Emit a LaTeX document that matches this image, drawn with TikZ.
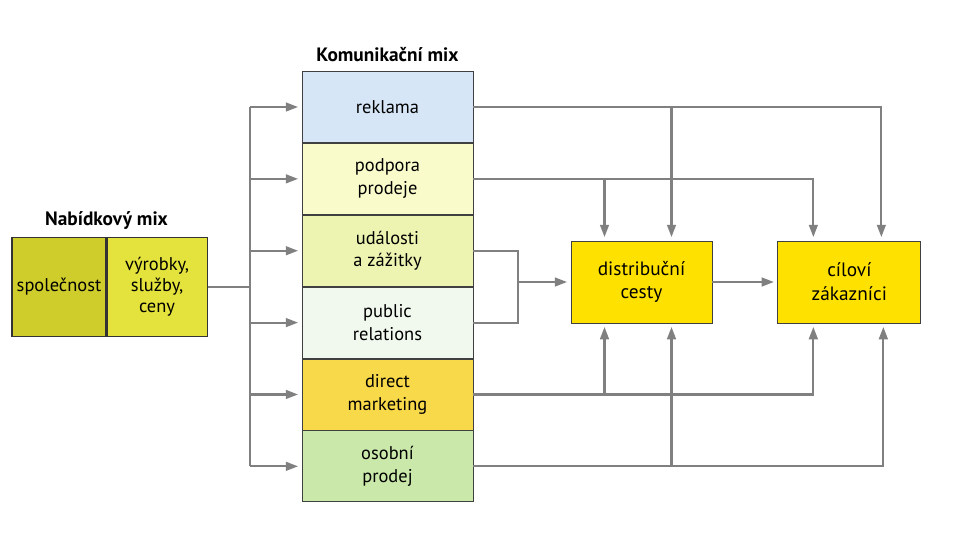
\documentclass[tikz,border=0pt]{standalone}
\usepackage{fontspec}
\setmainfont{PT Sans}
\usetikzlibrary{positioning,arrows.meta,calc}
\definecolor{linkgray}{HTML}{808080}
\definecolor{cellblue}{HTML}{D6E6F7}
\definecolor{cellcream}{HTML}{FAFBCB}
\definecolor{celllime}{HTML}{EDF4B2}
\definecolor{cellmint}{HTML}{F1F8EE}
\definecolor{cellorange}{HTML}{F8D94A}
\definecolor{cellgreen}{HTML}{C9E8A9}
\definecolor{offerolive}{HTML}{CFCD2C}
\definecolor{offeryellow}{HTML}{E4E23C}
\definecolor{goalyellow}{HTML}{FFE100}
\tikzset{
  >={Triangle[length=7pt,width=5pt]},
  km link/.style={draw=linkgray, line width=1.2pt},
  km flow/.style={km link, ->},
  km cell/.style={draw=black!75, line width=0.5pt, align=center, inner sep=0pt,
    minimum width=3.42cm, minimum height=1.42cm,
    font=\fontsize{10.5}{13}\selectfont},
  km offer/.style={draw=black!80, line width=0.6pt, align=center, inner sep=0pt,
    minimum height=1.98cm, font=\fontsize{10.5}{12}\selectfont},
  km goal/.style={draw=black!75, fill=goalyellow, line width=0.5pt, align=center,
    inner sep=0pt, minimum height=1.64cm, font=\fontsize{11}{13.5}\selectfont},
  km title/.style={font=\fontsize{11}{13}\selectfont\bfseries, inner sep=1pt},
}

\begin{document}
\begin{tikzpicture}[x=0.02cm, y=-0.02cm]
 \useasboundingbox (0,0) rectangle (969,545);
 % nabidkovy mix
 \node[km offer, fill=offerolive, minimum width=1.88cm] (spol) at (59,287) {společnost};
 \node[km offer, fill=offeryellow, minimum width=2cm, right=0pt of spol] (vyr)
   {výrobky,\\služby,\\ceny};
 \node[km title, above=3pt of spol.north east] (offertitle) {Nabídkový mix};
 % komunikacni mix
 \node[km cell, fill=cellblue] (reklama) at (387.5,107) {reklama};
 \node[km cell, fill=cellcream, below=0pt of reklama] (podpora) {podpora\\prodeje};
 \node[km cell, fill=celllime, below=0pt of podpora] (udalosti) {události\\a zážitky};
 \node[km cell, fill=cellmint, below=0pt of udalosti] (public) {public\\relations};
 \node[km cell, fill=cellorange, below=0pt of public] (direct) {direct\\marketing};
 \node[km cell, fill=cellgreen, below=0pt of direct] (osobni) {osobní\\prodej};
 \node[km title, above=4pt of reklama.north] (mixtitle) {Komunikační mix};
 % cile
 \node[km goal, minimum width=2.82cm] (dist) at (641.5,282) {distribuční\\cesty};
 \node[km goal, minimum width=2.86cm, right=1.3cm of dist] (cil) {cíloví\\zákazníci};

 % rozvod do komunikacniho mixu
 \coordinate (bus) at (250,0);
 \draw[km link] (vyr.east) -- (vyr.east -| bus);
 \draw[km link] (bus |- reklama.west) -- (bus |- osobni.west);
 \foreach \c in {reklama,podpora,udalosti,public,direct,osobni}
   \draw[km flow] (bus |- \c.west) -- ([xshift=-2pt]\c.west);

 % vstupy do cilu
 \coordinate (dist in a) at ($(dist.north)+(-37,0)$);
 \coordinate (dist in b) at ($(dist.north)+(30,0)$);
 \coordinate (cil in a) at ($(cil.north)+(-36,0)$);
 \coordinate (cil in b) at ($(cil.north)+(32,0)$);
 \coordinate (dist up a) at ($(dist.south)+(-37,0)$);
 \coordinate (dist up b) at ($(dist.south)+(30,0)$);
 \coordinate (cil up a) at ($(cil.south)+(-36,0)$);
 \coordinate (cil up b) at ($(cil.south)+(34,0)$);
 \coordinate (join) at ($(dist.west)+(-53,0)$);

 \draw[km flow] (reklama.east) -| ([yshift=2pt]cil in b);
 \draw[km flow] (reklama.east -| dist in b) -- ([yshift=2pt]dist in b);
 \draw[km flow] (podpora.east) -| ([yshift=2pt]cil in a);
 \draw[km flow] (podpora.east -| dist in a) -- ([yshift=2pt]dist in a);
 \draw[km link] (udalosti.east) -| (join) |- (public.east);
 \draw[km flow] (join) -- ([xshift=-2pt]dist.west);
 \draw[km flow] (dist) -- ([xshift=-2pt]cil.west);
 \draw[km flow] (direct.east) -| ([yshift=-2pt]cil up a);
 \draw[km flow] (direct.east -| dist up a) -- ([yshift=-2pt]dist up a);
 \draw[km flow] (osobni.east) -| ([yshift=-2pt]cil up b);
 \draw[km flow] (osobni.east -| dist up b) -- ([yshift=-2pt]dist up b);
\end{tikzpicture}
\end{document}
